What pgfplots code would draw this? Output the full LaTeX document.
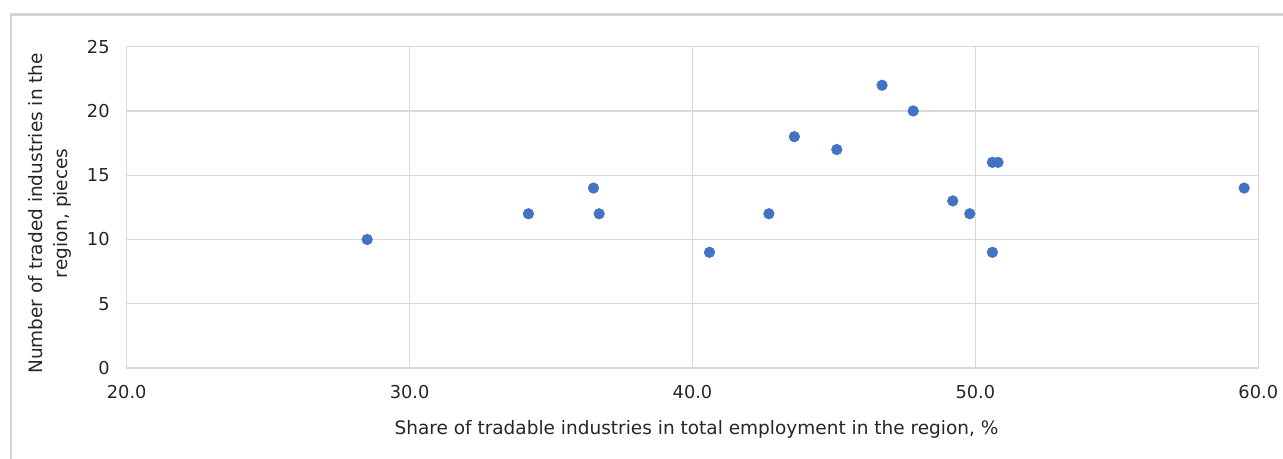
\documentclass[border=0pt]{standalone}
\usepackage{pgfplots}
\pgfplotsset{compat=1.18}
\usepackage{fontspec}
\setmainfont{DejaVu Sans}
\definecolor{dotblue}{HTML}{4472C4}
\definecolor{gridgray}{HTML}{D9D9D9}
\definecolor{framegray}{HTML}{D4D4D4}
\begin{document}
\begin{tikzpicture}
% canvas: 641.5pt x 229.5pt
\useasboundingbox (0pt,0pt) rectangle (641.5pt,229.5pt);
% outer chart-area border (top and left edges)
\draw[framegray,line width=1.3pt] (5.5pt,0pt) -- (5.5pt,222.15pt) -- (641.5pt,222.15pt);
\begin{axis}[
  at={(63.35pt,45.5pt)}, anchor=south west,
  scale only axis,
  width=565.8pt, height=160.65pt,
  xmin=20, xmax=60, ymin=0, ymax=25,
  xtick={20,30,40,50,60},
  ytick={0,5,10,15,20,25},
  x tick label style={/pgf/number format/fixed,/pgf/number format/fixed zerofill,/pgf/number format/precision=1},
  /pgf/number format/assume math mode=true,
  tick label style={font=\fontsize{8.9}{10}\selectfont, text=black!85},
  x tick label style={yshift=-5pt},
  y tick label style={xshift=-5pt},
  major tick length=0pt,
  grid=major,
  major grid style={gridgray,line width=0.6pt},
  axis line style={gridgray,line width=0.6pt},
  xlabel={Share of tradable industries in total employment in the region, \%},
  ylabel={Number of traded industries in the\\region, pieces},
  label style={font=\fontsize{9.25}{12.5}\selectfont, text=black!85},
  ylabel style={align=center, yshift=1.2pt, xshift=-3pt},
  xlabel style={yshift=-4pt, xshift=2pt},
  clip=false,
]
\addplot[only marks, mark=*, mark size=2.6pt, mark options={fill=dotblue, draw=dotblue}]
coordinates {
  (28.5,10)
  (34.2,12)
  (36.5,14)
  (36.7,12)
  (40.6,9)
  (42.7,12)
  (43.6,18)
  (45.1,17)
  (46.7,22)
  (47.8,20)
  (49.2,13)
  (49.8,12)
  (50.6,16)
  (50.8,16)
  (50.6,9)
  (59.5,14)
};
\end{axis}
\end{tikzpicture}
\end{document}
